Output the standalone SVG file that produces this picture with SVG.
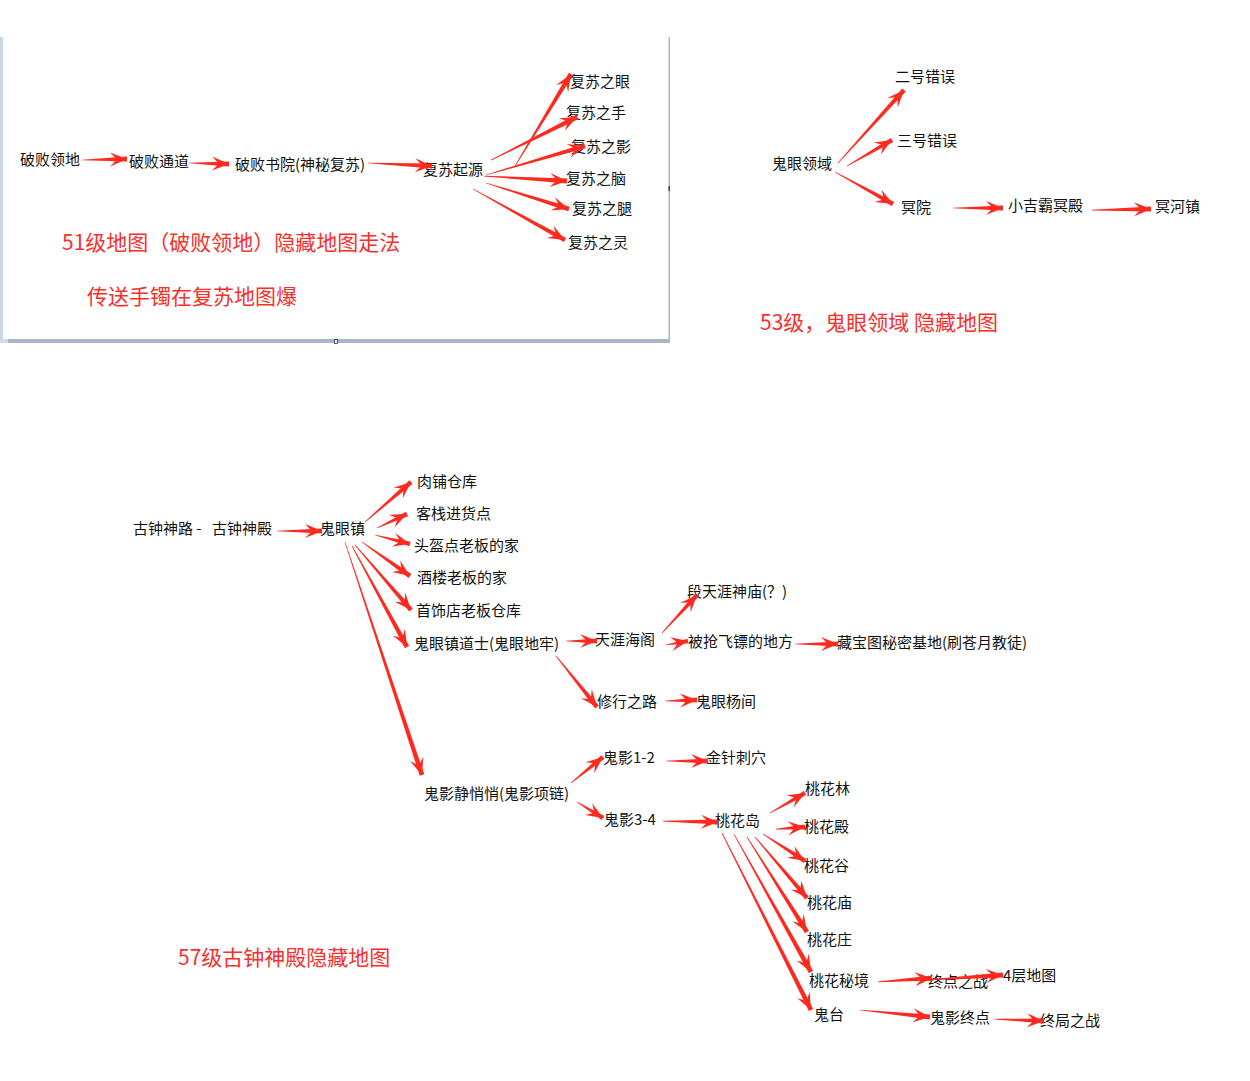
<svg xmlns="http://www.w3.org/2000/svg" xmlns:xlink="http://www.w3.org/1999/xlink" width="1250" height="1081" viewBox="0 0 1250 1081">
<style>
.t{font-family:"Noto Sans CJK SC","Noto Sans",sans-serif;font-size:15px;fill:#111}
.r{font-family:"Noto Sans CJK SC","Noto Sans",sans-serif;font-size:21px;fill:#f7302c}
.a{fill:#ff2a1f}
</style>
<defs>
<polygon id="hd" points="0,0 -17,-7 -12,-2 -12,2 -17,7"/>
<polygon id="sh" points="-1,-0.35 0,-2.4 0,2.4 -1,0.35"/>
</defs>
<rect width="1250" height="1081" fill="#fff"/>
<g id="panel1">
<rect x="0" y="37" width="3" height="303" fill="#cdd6e3"/>
<rect x="0" y="339" width="8" height="4" fill="#d4dbe6"/>
<rect x="8" y="339" width="661" height="4" fill="#a9b6c9"/>
<rect x="668.5" y="37" width="1.5" height="306" fill="#a8b8c8"/>
<rect x="668.5" y="186" width="1.5" height="5" fill="#444"/>
<rect x="334.5" y="339.5" width="3" height="4" fill="#fff" stroke="#333" stroke-width="0.8"/>
</g>
<g id="nodes">
<g id="n1"><text class="t" x="20" y="165">破败领地</text></g>
<g id="n2"><text class="t" x="129" y="167">破败通道</text></g>
<g id="n3"><text class="t" x="235" y="170">破败书院(神秘复苏)</text></g>
<g id="n4"><text class="t" x="423" y="175">复苏起源</text></g>
<g id="n5"><text class="t" x="570" y="87">复苏之眼</text></g>
<g id="n6"><text class="t" x="566" y="118">复苏之手</text></g>
<g id="n7"><text class="t" x="571" y="152">复苏之影</text></g>
<g id="n8"><text class="t" x="566" y="184">复苏之脑</text></g>
<g id="n9"><text class="t" x="572" y="214">复苏之腿</text></g>
<g id="n10"><text class="t" x="568" y="248">复苏之灵</text></g>
<g id="l1"><text class="r" x="62" y="250">51级地图（破败领地）隐藏地图走法</text></g>
<g id="l2"><text class="r" x="87" y="304">传送手镯在复苏地图爆</text></g>

<g id="n11"><text class="t" x="772" y="169">鬼眼领域</text></g>
<g id="n12"><text class="t" x="895" y="82">二号错误</text></g>
<g id="n13"><text class="t" x="897" y="146">三号错误</text></g>
<g id="n14"><text class="t" x="901" y="213">冥院</text></g>
<g id="n15"><text class="t" x="1008" y="211">小吉霸冥殿</text></g>
<g id="n16"><text class="t" x="1155" y="212">冥河镇</text></g>
<g id="l3"><text class="r" x="760" y="330">53级，鬼眼领域 隐藏地图</text></g>

<g id="n17"><text class="t" x="133" y="534">古钟神路 -<tspan x="212">古钟神殿</tspan></text></g>
<g id="n18"><text class="t" x="320" y="534">鬼眼镇</text></g>
<g id="n19"><text class="t" x="417" y="487">肉铺仓库</text></g>
<g id="n20"><text class="t" x="416" y="519">客栈进货点</text></g>
<g id="n21"><text class="t" x="414" y="551">头盔点老板的家</text></g>
<g id="n22"><text class="t" x="417" y="583">酒楼老板的家</text></g>
<g id="n23"><text class="t" x="416" y="616">首饰店老板仓库</text></g>
<g id="n24"><text class="t" x="414" y="649">鬼眼镇道士(鬼眼地牢)</text></g>
<g id="n25"><text class="t" x="424" y="799">鬼影静悄悄(鬼影项链)</text></g>
<g id="n26"><text class="t" x="687" y="597">段天涯神庙(？)</text></g>
<g id="n27"><text class="t" x="595" y="645">天涯海阁</text></g>
<g id="n28"><text class="t" x="688" y="647">被抢飞镖的地方</text></g>
<g id="n29"><text class="t" x="837" y="648">藏宝图秘密基地(刷苍月教徒)</text></g>
<g id="n30"><text class="t" x="597" y="707">修行之路</text></g>
<g id="n31"><text class="t" x="696" y="707">鬼眼杨间</text></g>
<g id="n32"><text class="t" x="603" y="763">鬼影1-2</text></g>
<g id="n33"><text class="t" x="706" y="763">金针刺穴</text></g>
<g id="n34"><text class="t" x="604" y="825">鬼影3-4</text></g>
<g id="n35"><text class="t" x="715" y="826">桃花岛</text></g>
<g id="n36"><text class="t" x="805" y="794">桃花林</text></g>
<g id="n37"><text class="t" x="804" y="832">桃花殿</text></g>
<g id="n38"><text class="t" x="804" y="871">桃花谷</text></g>
<g id="n39"><text class="t" x="807" y="908">桃花庙</text></g>
<g id="n40"><text class="t" x="807" y="945">桃花庄</text></g>
<g id="n41"><text class="t" x="809" y="986">桃花秘境</text></g>
<g id="n42"><text class="t" x="814" y="1020">鬼台</text></g>
<g id="n43"><text class="t" x="928" y="987">终点之战</text></g>
<g id="n44"><text class="t" x="1003" y="981">4层地图</text></g>
<g id="n45"><text class="t" x="930" y="1023">鬼影终点</text></g>
<g id="n46"><text class="t" x="1040" y="1026">终局之战</text></g>
<g id="l4"><text class="r" x="178" y="965">57级古钟神殿隐藏地图</text></g>
</g>
<g id="connectors" class="a">
<g transform="translate(127,159) rotate(-1.3)"><use href="#sh" transform="scale(45,1)"/><use href="#hd"/></g>
<g transform="translate(229,164) rotate(1.4)"><use href="#sh" transform="scale(40,1)"/><use href="#hd"/></g>
<g transform="translate(432,166) rotate(2.7)"><use href="#sh" transform="scale(64,1)"/><use href="#hd"/></g>
<g transform="translate(571,74) rotate(-58.7)"><use href="#sh" transform="scale(107.7,1)"/><use href="#hd"/></g>
<g transform="translate(577,117) rotate(-26.6)"><use href="#sh" transform="scale(96.2,1)"/><use href="#hd"/></g>
<g transform="translate(585,146) rotate(-16.3)"><use href="#sh" transform="scale(103.2,1)"/><use href="#hd"/></g>
<g transform="translate(567,181) rotate(3.4)"><use href="#sh" transform="scale(83.2,1)"/><use href="#hd"/></g>
<g transform="translate(569,209) rotate(17.4)"><use href="#sh" transform="scale(87,1)"/><use href="#hd"/></g>
<g transform="translate(565,240) rotate(29)"><use href="#sh" transform="scale(105.2,1)"/><use href="#hd"/></g>

<g transform="translate(904,90) rotate(-47.9)"><use href="#sh" transform="scale(98.4,1)"/><use href="#hd"/></g>
<g transform="translate(892,140) rotate(-30)"><use href="#sh" transform="scale(52,1)"/><use href="#hd"/></g>
<g transform="translate(893,204) rotate(28.9)"><use href="#sh" transform="scale(66.2,1)"/><use href="#hd"/></g>
<g transform="translate(1003,208) rotate(0)"><use href="#sh" transform="scale(50,1)"/><use href="#hd"/></g>
<g transform="translate(1151,209) rotate(-1)"><use href="#sh" transform="scale(59,1)"/><use href="#hd"/></g>

<g transform="translate(322,531) rotate(0)"><use href="#sh" transform="scale(45,1)"/><use href="#hd"/></g>
<g transform="translate(411,482) rotate(-41)"><use href="#sh" transform="scale(61,1)"/><use href="#hd"/></g>
<g transform="translate(407,514) rotate(-25)"><use href="#sh" transform="scale(33.1,1)"/><use href="#hd"/></g>
<g transform="translate(410,544) rotate(14.4)"><use href="#sh" transform="scale(36.1,1)"/><use href="#hd"/></g>
<g transform="translate(410,576) rotate(35.3)"><use href="#sh" transform="scale(58.8,1)"/><use href="#hd"/></g>
<g transform="translate(411,610) rotate(49.3)"><use href="#sh" transform="scale(85.8,1)"/><use href="#hd"/></g>
<g transform="translate(407,647) rotate(61.4)"><use href="#sh" transform="scale(115,1)"/><use href="#hd"/></g>
<g transform="translate(422,775) rotate(71.7)"><use href="#sh" transform="scale(245.4,1)"/><use href="#hd"/></g>

<g transform="translate(597,641) rotate(0)"><use href="#sh" transform="scale(31,1)"/><use href="#hd"/></g>
<g transform="translate(697,595) rotate(-47.4)"><use href="#sh" transform="scale(51.7,1)"/><use href="#hd"/></g>
<g transform="translate(688,641) rotate(-10.3)"><use href="#sh" transform="scale(22.4,1)"/><use href="#hd"/></g>
<g transform="translate(838,644) rotate(0)"><use href="#sh" transform="scale(43,1)"/><use href="#hd"/></g>
<g transform="translate(597,707) rotate(51.2)"><use href="#sh" transform="scale(65.4,1)"/><use href="#hd"/></g>
<g transform="translate(697,700) rotate(-1.8)"><use href="#sh" transform="scale(32,1)"/><use href="#hd"/></g>

<g transform="translate(603,757) rotate(-39.1)"><use href="#sh" transform="scale(41.2,1)"/><use href="#hd"/></g>
<g transform="translate(603,818) rotate(31.6)"><use href="#sh" transform="scale(30.5,1)"/><use href="#hd"/></g>
<g transform="translate(708,761) rotate(0)"><use href="#sh" transform="scale(42,1)"/><use href="#hd"/></g>
<g transform="translate(718,822) rotate(1)"><use href="#sh" transform="scale(55,1)"/><use href="#hd"/></g>
<g transform="translate(805,793) rotate(-29.7)"><use href="#sh" transform="scale(40.3,1)"/><use href="#hd"/></g>
<g transform="translate(805,827) rotate(-4)"><use href="#sh" transform="scale(29.1,1)"/><use href="#hd"/></g>
<g transform="translate(805,861) rotate(32.7)"><use href="#sh" transform="scale(49.9,1)"/><use href="#hd"/></g>
<g transform="translate(807,898) rotate(49.5)"><use href="#sh" transform="scale(80.2,1)"/><use href="#hd"/></g>
<g transform="translate(807,932) rotate(57.7)"><use href="#sh" transform="scale(112.4,1)"/><use href="#hd"/></g>
<g transform="translate(811,972) rotate(60.8)"><use href="#sh" transform="scale(158,1)"/><use href="#hd"/></g>
<g transform="translate(811,1010) rotate(63.3)"><use href="#sh" transform="scale(198.1,1)"/><use href="#hd"/></g>
<g transform="translate(932,978) rotate(-4.2)"><use href="#sh" transform="scale(54.1,1)"/><use href="#hd"/></g>
<g transform="translate(1003,975) rotate(-3.7)"><use href="#sh" transform="scale(78.2,1)"/><use href="#hd"/></g>
<g transform="translate(930,1017) rotate(5.7)"><use href="#sh" transform="scale(70.3,1)"/><use href="#hd"/></g>
<g transform="translate(1044,1021) rotate(2.3)"><use href="#sh" transform="scale(49,1)"/><use href="#hd"/></g>
</g>
</svg>
